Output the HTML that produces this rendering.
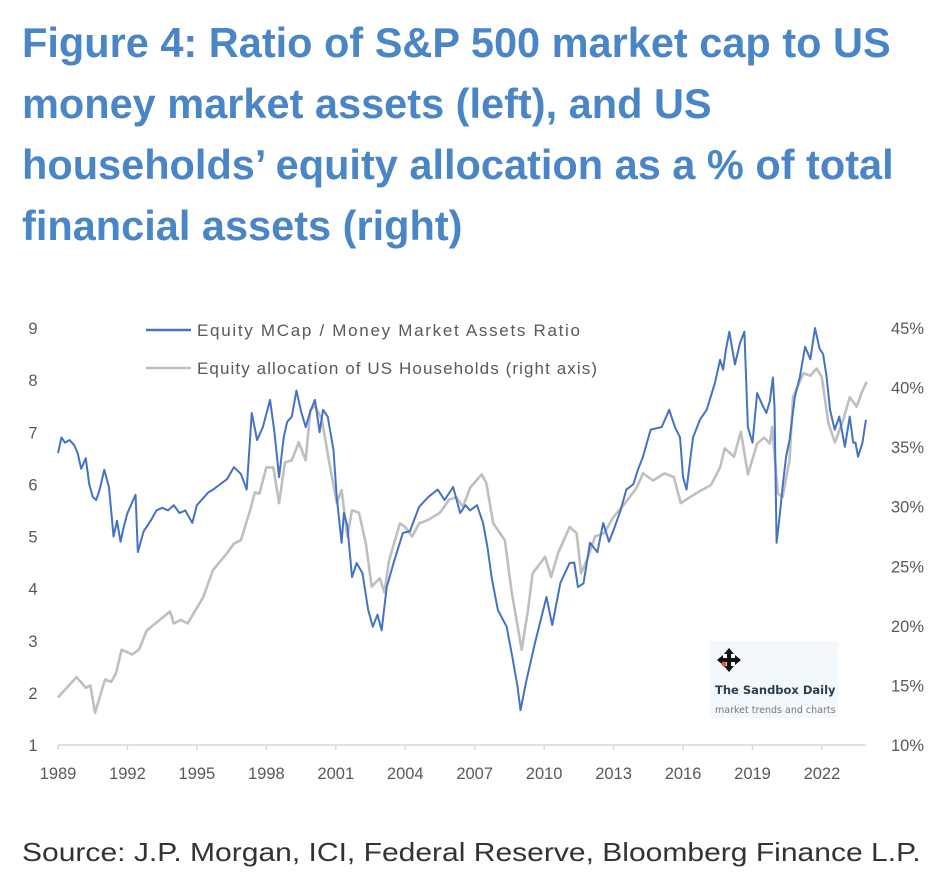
<!DOCTYPE html>
<html><head><meta charset="utf-8">
<style>
body{margin:0;background:#fff;width:948px;height:889px;overflow:hidden;font-family:"Liberation Sans",Arial,sans-serif}
#title{position:absolute;left:22px;top:12px;width:930px;color:#4a86c5;font-weight:bold;font-size:41.5px;line-height:61px;white-space:nowrap}
#source{position:absolute;left:22px;top:837px;font-size:26px;color:#333;transform-origin:0 0;transform:scaleX(1.155);white-space:nowrap}
svg{position:absolute;left:0;top:0}
</style></head><body>
<div id="title">Figure 4: Ratio of S&amp;P 500 market cap to US<br>money market assets (left), and US<br>households’ equity allocation as a % of total<br>financial assets (right)</div>
<svg id="chart" width="948" height="889"></svg>
<div id="source">Source: J.P. Morgan, ICI, Federal Reserve, Bloomberg Finance L.P.</div>
<script>
const xTicks=[1989,1992,1995,1998,2001,2004,2007,2010,2013,2016,2019,2022];
const leftTicks=[1,2,3,4,5,6,7,8,9];
const rightTicks=[10,15,20,25,30,35,40,45];
const blueYears=[1989.0,1989.15,1989.3,1989.5,1989.7,1989.85,1990.0,1990.2,1990.35,1990.5,1990.65,1990.8,1991.0,1991.2,1991.4,1991.55,1991.7,1991.85,1992.0,1992.2,1992.35,1992.45,1992.7,1993.0,1993.25,1993.5,1993.75,1994.0,1994.25,1994.5,1994.8,1995.0,1995.3,1995.5,1995.7,1996.0,1996.3,1996.6,1996.9,1997.15,1997.37,1997.6,1997.85,1998.16,1998.35,1998.55,1998.75,1998.9,1999.1,1999.3,1999.5,1999.7,1999.9,2000.1,2000.3,2000.45,2000.65,2000.9,2001.04,2001.25,2001.35,2001.5,2001.7,2001.9,2002.15,2002.4,2002.6,2002.8,2002.98,2003.2,2003.5,2003.9,2004.2,2004.6,2005.0,2005.4,2005.7,2006.07,2006.37,2006.6,2006.8,2007.1,2007.36,2007.55,2007.73,2008.0,2008.38,2008.65,2008.85,2008.98,2009.24,2009.6,2010.1,2010.35,2010.7,2011.1,2011.3,2011.46,2011.7,2011.98,2012.3,2012.55,2012.8,2012.98,2013.3,2013.55,2013.85,2014.05,2014.27,2014.6,2015.08,2015.4,2015.65,2015.87,2016.0,2016.15,2016.43,2016.73,2017.02,2017.38,2017.6,2017.73,2017.85,2018.0,2018.24,2018.46,2018.65,2018.8,2019.0,2019.2,2019.45,2019.6,2019.75,2019.88,2019.95,2020.04,2020.15,2020.32,2020.45,2020.6,2020.83,2021.05,2021.27,2021.5,2021.7,2021.9,2022.05,2022.2,2022.35,2022.55,2022.75,2022.99,2023.2,2023.35,2023.45,2023.56,2023.75,2023.9];
const blueValues=[6.6,6.9,6.8,6.85,6.75,6.6,6.3,6.5,6.0,5.76,5.7,5.9,6.28,5.95,5.0,5.3,4.9,5.2,5.45,5.65,5.8,4.7,5.1,5.3,5.5,5.55,5.5,5.6,5.45,5.5,5.26,5.6,5.75,5.85,5.9,6.0,6.1,6.33,6.2,5.9,7.37,6.85,7.1,7.62,7.0,6.14,6.9,7.2,7.3,7.8,7.4,7.1,7.4,7.62,7.0,7.43,7.3,6.66,5.76,4.88,5.45,5.2,4.22,4.49,4.3,3.59,3.27,3.5,3.2,4.03,4.5,5.07,5.1,5.57,5.76,5.9,5.7,5.95,5.45,5.6,5.5,5.6,5.26,4.8,4.22,3.59,3.27,2.63,2.12,1.67,2.25,2.95,3.84,3.3,4.11,4.49,4.5,4.03,4.1,4.88,4.7,5.26,4.9,5.1,5.5,5.9,6.0,6.28,6.53,7.05,7.1,7.43,7.1,6.9,6.14,5.9,6.9,7.24,7.43,7.95,8.39,8.2,8.58,8.93,8.3,8.71,8.93,7.1,6.8,7.75,7.5,7.37,7.6,8.05,7.5,4.88,5.3,6.03,6.53,6.85,7.68,8.07,8.64,8.4,9.0,8.6,8.5,8.07,7.43,7.05,7.3,6.72,7.3,6.8,6.8,6.53,6.8,7.24];
const grayYears=[1989.0,1989.8,1990.2,1990.4,1990.6,1991.03,1991.3,1991.5,1991.75,1992.2,1992.5,1992.83,1993.2,1993.84,1994.0,1994.3,1994.6,1995.27,1995.7,1996.3,1996.6,1996.9,1997.3,1997.5,1997.7,1998.0,1998.3,1998.55,1998.8,1999.1,1999.4,1999.7,1999.9,2000.1,2000.4,2000.7,2001.04,2001.25,2001.5,2001.7,2002.0,2002.3,2002.55,2002.9,2003.1,2003.3,2003.77,2004.0,2004.3,2004.6,2005.0,2005.5,2005.9,2006.2,2006.5,2006.8,2007.3,2007.5,2007.8,2008.3,2008.6,2009.03,2009.3,2009.5,2010.04,2010.3,2010.6,2011.1,2011.4,2011.6,2011.9,2012.2,2012.6,2012.98,2013.5,2014.0,2014.27,2014.7,2015.2,2015.6,2015.9,2016.3,2016.8,2017.2,2017.6,2017.8,2018.2,2018.5,2018.8,2019.2,2019.5,2019.75,2019.85,2020.1,2020.3,2020.6,2020.75,2021.2,2021.5,2021.77,2021.99,2022.28,2022.56,2022.92,2023.2,2023.5,2023.7,2023.93];
const grayValues=[14.0,15.7,14.8,15.0,12.7,15.5,15.3,16.0,18.0,17.6,18.0,19.6,20.2,21.2,20.2,20.5,20.2,22.4,24.7,26.1,26.9,27.2,29.7,31.2,31.1,33.3,33.3,30.3,33.7,33.9,35.4,33.9,38.1,38.5,37.3,33.9,30.3,31.4,27.5,29.7,29.5,26.9,23.3,24.0,22.8,25.5,28.6,28.3,27.5,28.6,28.9,29.5,30.6,30.8,30.0,31.6,32.7,32.0,28.6,27.2,22.8,18.0,21.3,24.4,25.8,24.1,26.1,28.3,27.8,24.4,25.8,27.5,27.8,29.1,30.3,31.6,32.8,32.2,32.8,32.5,30.3,30.8,31.4,31.8,33.3,34.9,34.2,36.3,32.7,35.3,35.8,35.3,36.7,31.1,30.8,33.9,39.2,41.2,41.0,41.6,40.9,37.0,35.4,37.3,39.2,38.4,39.5,40.5];

const NS='http://www.w3.org/2000/svg';
const svg=document.getElementById('chart');
const x=y=>58+(y-1989)*23.15;
const yL=v=>745-(v-1)*52.125;
const yR=v=>745-(v-10)*(417/35);
function mk(tag,attrs,parent){const e=document.createElementNS(NS,tag);for(const k in attrs)e.setAttribute(k,attrs[k]);(parent||svg).appendChild(e);return e;}

const axis=mk('line',{x1:58,x2:866,y1:745,y2:745,stroke:'#d9d9d9','stroke-width':1.5});


xTicks.forEach(t=>{
  const tk=mk('line',{x1:x(t),x2:x(t),y1:745,y2:750,stroke:'#d9d9d9','stroke-width':1.5});
  
  
  const tx=mk('text',{x:x(t),y:779,'text-anchor':'middle','font-size':16.5,fill:'#595959','font-family':'Liberation Sans, sans-serif'});
  tx.textContent=t;
  
  
});
leftTicks.forEach(t=>{
  const tx=mk('text',{x:33,y:yL(t)+6,'text-anchor':'middle','font-size':16.5,fill:'#595959','font-family':'Liberation Sans, sans-serif'});
  tx.textContent=t;
  
  
});
rightTicks.forEach(t=>{
  const tx=mk('text',{x:924,y:yR(t)+6,'text-anchor':'end','font-size':16.5,fill:'#595959','font-family':'Liberation Sans, sans-serif'});
  tx.textContent=t+'%';
  
  
});

const gp=mk('polyline',{points:grayYears.map((yr,i)=>x(yr)+','+yR(grayValues[i])).join(' '),fill:'none',stroke:'#bfbfbf','stroke-width':2.6,'stroke-linejoin':'round'});


const bp=mk('polyline',{points:blueYears.map((yr,i)=>x(yr)+','+yL(blueValues[i])).join(' '),fill:'none',stroke:'#4472c4','stroke-width':2,'stroke-linejoin':'round'});



const lg1=mk('g',{});


mk('line',{x1:146,x2:191,y1:330,y2:330,stroke:'#4472c4','stroke-width':2.5},lg1);
const t1=mk('text',{x:197,y:336,'font-size':17,fill:'#595959','font-family':'Liberation Sans, sans-serif','textLength':383},lg1);
t1.textContent='Equity MCap / Money Market Assets Ratio';
const lg2=mk('g',{});


mk('line',{x1:146,x2:191,y1:368,y2:368,stroke:'#bfbfbf','stroke-width':2.5},lg2);
const t2=mk('text',{x:197,y:374,'font-size':17,fill:'#595959','font-family':'Liberation Sans, sans-serif','textLength':400},lg2);
t2.textContent='Equity allocation of US Households (right axis)';

const wm=mk('g',{});


mk('rect',{x:710,y:641,width:128,height:77,fill:'#f2f8fc'},wm);
mk('path',{d:'M729 648 L734 654 L731 654 L731 658 L735 658 L735 655 L741 660 L735 665 L735 662 L731 662 L731 666 L734 666 L729 672 L724 666 L727 666 L727 662 L723 662 L723 665 L717 660 L723 655 L723 658 L727 658 L727 654 L724 654 Z',fill:'#111'},wm);
mk('circle',{cx:724,cy:664,r:2.5,fill:'#e8533a'},wm);
const w1=mk('text',{x:715,y:694,'font-size':11.5,'font-weight':'bold',fill:'#2d3e4a','font-family':'DejaVu Sans, sans-serif'},wm);
w1.textContent='The Sandbox Daily';
const w2=mk('text',{x:715,y:713,'font-size':9.5,fill:'#777','font-family':'DejaVu Sans, sans-serif'},wm);
w2.textContent='market trends and charts';
</script>
</body></html>
